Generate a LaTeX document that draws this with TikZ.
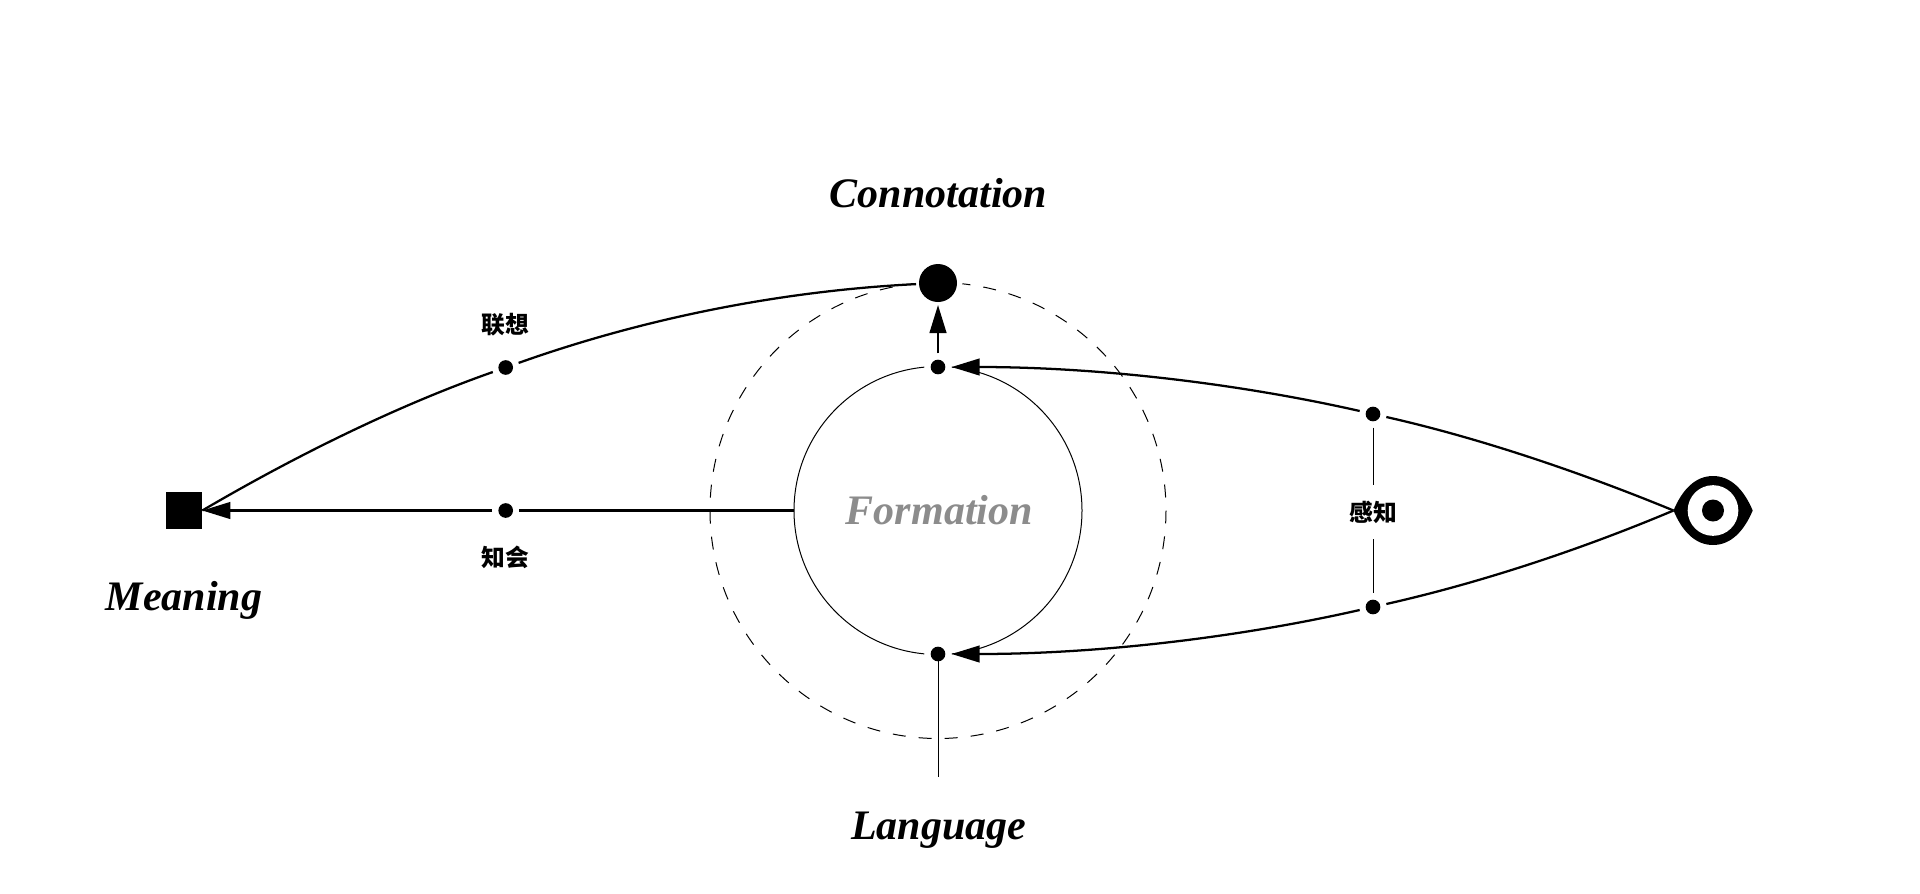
\documentclass[tikz,border=0pt]{standalone}
\usepackage{fontspec}
\setmainfont{Liberation Serif}
\newfontfamily\cjk{Noto Sans CJK SC}
\usetikzlibrary{arrows.meta}
\tikzset{
	dotnode/.style={circle,fill=black,inner sep=0pt,minimum size=11pt,outer sep=4.75pt,preaction={draw=white,line width=9.5pt}},
	ringnode/.style={circle,draw=black,line width=0.75pt,inner sep=0pt,outer sep=0pt},
	termnode/.style={font=\fontsize{31.5}{31.5}\selectfont\bfseries\itshape,anchor=base},
	cjknode/.style={font=\fontsize{17.8}{17.8}\selectfont\cjk\bfseries,inner sep=0pt,outer sep=12pt},
	heavyline/.style={line width=1.7pt},
	thinline/.style={line width=0.75pt},
	headline/.style={heavyline,-{Triangle[length=21pt,width=12.5pt]}}
}
\begin{document}
\begin{tikzpicture}[x=0.75pt,y=-0.75pt]
	\useasboundingbox (0,0) rectangle (1920,893);

	%circles
	\node[ringnode,minimum size=342pt,dash pattern=on 9.77pt off 9.77pt,dash phase=9.77pt] (outer) at (938,510.5) {};
	\node[ringnode,minimum size=216pt,text=black!45,font=\fontsize{31.5}{31.5}\selectfont\bfseries\itshape] (formation) at (938,510.5) {\kern2pt Formation};

	%points
	\node[circle,fill=black,inner sep=0pt,minimum size=38pt*0.75,outer sep=2.25pt,preaction={draw=white,line width=8pt}] (connotation) at (938,283) {};
	\node[fill=black,inner sep=0pt,minimum size=27.5pt,outer sep=0pt] (meaning) at (184,510.5) {};
	\node[dotnode] (up) at (938,367) {}; %upper dot
	\node[dotnode] (low) at (938,654) {}; %lower dot
	\node[dotnode] (assoc) at (505.7,367.5) {}; %associate
	\node[dotnode] (know) at (505.7,510.5) {}; %know
	\node[dotnode] (senseup) at (1373,414) {};
	\node[dotnode] (senselow) at (1373,607) {};

	%eye
	\coordinate (eye) at (1673.5,510.5);
	\fill (eye) .. controls (1682,490) and (1695,476) .. (1713,476) .. controls (1731,476) and (1744,490) .. (1752.7,510.5) .. controls (1744,531) and (1731,545) .. (1713,545) .. controls (1695,545) and (1682,531) .. (eye) -- cycle;
	\fill[white] (1713,510.5) circle (19pt);
	\fill (1713,510.5) circle (8.25pt);

	%labels
	\node[termnode] (conlabel) at (938.5,207) {Connotation};
	\node[termnode] (meanlabel) at (184,610) {Meaning};
	\node[termnode] (langlabel) at (938.5,839) {Language};
	\node[cjknode] (assoclabel) at (505.7,325) {联想};
	\node[cjknode] (knowlabel) at (505.7,557) {知会};
	\node[cjknode] (senselabel) at (1373,512) {感知};

	%connectors
	\draw[heavyline] (connotation) .. controls (779,291) and (642,319) .. (assoc);
	\draw[heavyline] (assoc) .. controls (404.6,403) and (303.7,451) .. (meaning.east);
	\draw[heavyline] (formation.west) -- (know);
	\draw[headline] (know) -- (meaning.east);
	\draw[headline] (up) -- (connotation);
	\draw[heavyline] (eye) .. controls (1575,470) and (1475,437) .. (senseup);
	\draw[headline] (senseup) .. controls (1236,383) and (1096,367) .. (up);
	\draw[heavyline] (eye) .. controls (1575,552) and (1475,584) .. (senselow);
	\draw[headline] (senselow) .. controls (1236,638) and (1096,654) .. (low);
	\draw[thinline] (senseup) -- (senselabel);
	\draw[thinline] (senselabel) -- (senselow);
	\coordinate (langend) at (938,777);
	\draw[thinline] (low.center) -- (langend);
\end{tikzpicture}
\end{document}
